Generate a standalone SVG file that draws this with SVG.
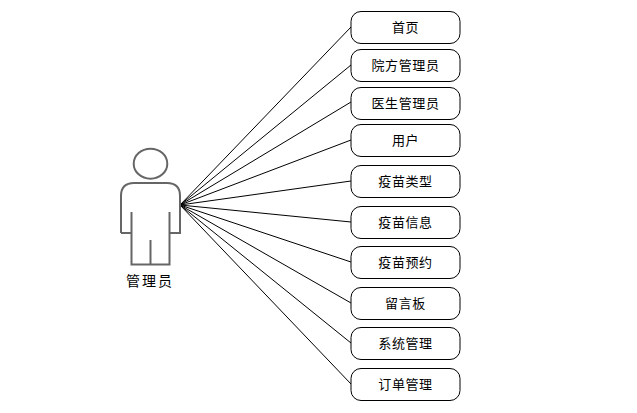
<svg xmlns="http://www.w3.org/2000/svg" width="637" height="413" viewBox="0 0 637 413">
<style>
.n{fill:#fff;stroke:#000;stroke-width:1}
.c{stroke:#000;stroke-width:1;fill:none}
.a{fill:#fff;stroke:#666;stroke-width:2}
text{font-family:"Noto Sans CJK SC","Liberation Sans",sans-serif;font-size:13px;text-anchor:middle;fill:#000;letter-spacing:.6px}
</style>
<rect width="637" height="413" fill="#fff"/>
<g id="connectors">
<path class="c" d="M180 205L351 27M180 205L351 65M180 205L351 102M180 205L351 140M180 205L351 181M180 205L351 222M180 205L351 262M180 205L351 303M180 205L351 343M180 205L351 384"/>
</g>
<g id="actor">
<ellipse class="a" cx="150.500" cy="163.700" rx="16.800" ry="15"/>
<path class="a" d="M121 233V196Q121 183 134 183H167Q180 183 180 196V233H169.500V212M169.500 233V264.500H131.500V233M131.500 212V233H121M150.500 240V264.500"/>
<text x="150" y="286" style="font-size:14px;letter-spacing:2px">管理员</text>
</g>
<g id="n1"><rect class="n" x="351" y="11.500" width="109" height="32" rx="10"/><text x="405.500" y="32">首页</text></g>
<g id="n2"><rect class="n" x="351" y="49.500" width="109" height="32" rx="10"/><text x="405.500" y="70">院方管理员</text></g>
<g id="n3"><rect class="n" x="351" y="87.500" width="109" height="32" rx="10"/><text x="405.500" y="108">医生管理员</text></g>
<g id="n4"><rect class="n" x="351" y="124.500" width="109" height="32" rx="10"/><text x="405.500" y="145">用户</text></g>
<g id="n5"><rect class="n" x="351" y="165.500" width="109" height="32" rx="10"/><text x="405.500" y="186">疫苗类型</text></g>
<g id="n6"><rect class="n" x="351" y="206.500" width="109" height="32" rx="10"/><text x="405.500" y="227">疫苗信息</text></g>
<g id="n7"><rect class="n" x="351" y="246.500" width="109" height="32" rx="10"/><text x="405.500" y="267">疫苗预约</text></g>
<g id="n8"><rect class="n" x="351" y="287.500" width="109" height="32" rx="10"/><text x="405.500" y="308">留言板</text></g>
<g id="n9"><rect class="n" x="351" y="327.500" width="109" height="32" rx="10"/><text x="405.500" y="348">系统管理</text></g>
<g id="n10"><rect class="n" x="351" y="368.500" width="109" height="32" rx="10"/><text x="405.500" y="389">订单管理</text></g>
</svg>
